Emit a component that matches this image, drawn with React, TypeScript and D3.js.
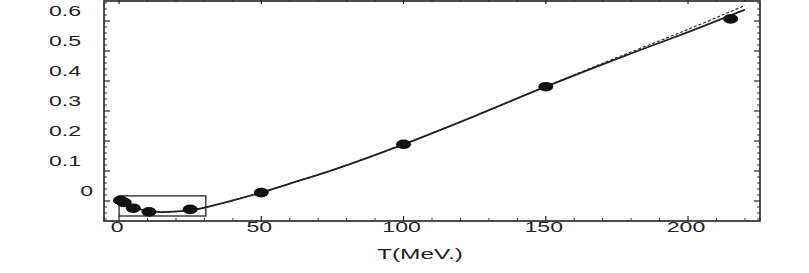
import React from "react";
import * as d3 from "d3";

// measured points (T in MeV, value)
const pointT = [0.5, 1.8, 5, 10.5, 25, 50, 100, 150, 215];
const pointV = [0.002, -0.005, -0.024, -0.036, -0.028, 0.028, 0.189, 0.381, 0.607];

// solid fit curve
const curveT = [0, 5, 10, 15, 20, 25, 30, 40, 50, 60, 75, 100, 125, 150, 175, 200, 220];
const solidV = [0.002, -0.02, -0.033, -0.037, -0.035, -0.031, -0.022, 0.002, 0.028, 0.058, 0.103, 0.189, 0.283, 0.381, 0.474, 0.563, 0.638];
// dashed curve (only differs at high T)
const dashedV = [0.002, -0.02, -0.033, -0.037, -0.035, -0.031, -0.022, 0.002, 0.028, 0.058, 0.103, 0.189, 0.283, 0.382, 0.478, 0.572, 0.652];

const xMajor = [0, 50, 100, 150, 200];
const yMajor = [0, 0.1, 0.2, 0.3, 0.4, 0.5, 0.6];
const yLabels = ["0", "0.1", "0.2", "0.3", "0.4", "0.5", "0.6"];

// zoom box shown around the low-T points
const boxT = [0, 30.5];
const boxV = [-0.05, 0.017];

const W = 809;
const H = 273;
const INK = "#222";

export default function App() {
  const x = d3.scaleLinear().domain([-5.3, 225.3]).range([104, 760]);
  const y = d3.scaleLinear().domain([-0.0667, 0.67]).range([221, 0]);
  const [x0, x1] = x.range();
  const [yb, yt] = y.range();

  const xMinor = d3.range(0, 221, 10).filter((t) => t % 50 !== 0);
  const yMinor = d3.range(-6, 67, 2).map((v) => v / 100).filter((v) => Math.round(v * 100) % 10 !== 0);

  const line = d3
    .line<number>()
    .x((_, i) => x(curveT[i]))
    .curve(d3.curveCatmullRom);
  const solid = line.y((v) => y(v))(solidV) || "";
  const dashed = line.y((v) => y(v))(dashedV) || "";

  const sx = 1.65;

  return (
    <svg width={W} height={H} style={{ position: "absolute", left: 0, top: 0, background: "#fff" }}>
      {/* frame */}
      <rect x={x0} y={yt + 1} width={x1 - x0} height={yb - yt - 1} fill="none" stroke={INK} strokeWidth={1.6} />

      {/* y ticks, left and right, pointing inward */}
      {yMajor.map((v) => (
        <g key={"ym" + v}>
          <line x1={x0} x2={x0 + 6} y1={y(v)} y2={y(v)} stroke={INK} strokeWidth={1.2} />
          <line x1={x1} x2={x1 - 6} y1={y(v)} y2={y(v)} stroke={INK} strokeWidth={1.2} />
        </g>
      ))}
      {yMinor.map((v) => (
        <g key={"yn" + v}>
          <line x1={x0} x2={x0 + 3} y1={y(v)} y2={y(v)} stroke={INK} strokeWidth={0.9} />
          <line x1={x1} x2={x1 - 3} y1={y(v)} y2={y(v)} stroke={INK} strokeWidth={0.9} />
        </g>
      ))}

      {/* x ticks, bottom and top */}
      {xMajor.map((t) => (
        <g key={"xm" + t}>
          <line x1={x(t)} x2={x(t)} y1={yb} y2={yb - 5} stroke={INK} strokeWidth={1.2} />
          <line x1={x(t)} x2={x(t)} y1={yt} y2={yt + 4} stroke={INK} strokeWidth={1.2} />
        </g>
      ))}
      {xMinor.map((t) => (
        <g key={"xn" + t}>
          <line x1={x(t)} x2={x(t)} y1={yb} y2={yb - 3} stroke={INK} strokeWidth={0.9} />
          <line x1={x(t)} x2={x(t)} y1={yt} y2={yt + 2} stroke={INK} strokeWidth={0.9} />
        </g>
      ))}

      {/* y tick labels */}
      {yMajor.map((v, i) => (
        <g key={"yl" + v} transform={`translate(${v === 0 ? 93 : 81},${y(v) - 5}) scale(${sx},1)`}>
          <text textAnchor="end" fontFamily="Liberation Sans, Arial, sans-serif" fontSize={14} fill={INK}>
            {yLabels[i]}
          </text>
        </g>
      ))}

      {/* x tick labels */}
      {xMajor.map((t) => (
        <g key={"xl" + t} transform={`translate(${x(t) - 2},${yb + 11}) scale(${sx},1)`}>
          <text textAnchor="middle" fontFamily="Liberation Sans, Arial, sans-serif" fontSize={14} fill={INK}>
            {t}
          </text>
        </g>
      ))}

      {/* axis title */}
      <text
        x={420}
        y={259}
        textAnchor="middle"
        fontFamily="Liberation Sans, Arial, sans-serif"
        fontSize={14}
        fill={INK}
        textLength={86}
        lengthAdjust="spacingAndGlyphs"
      >
        T(MeV.)
      </text>

      {/* zoom box */}
      <rect
        x={x(boxT[0])}
        y={y(boxV[1])}
        width={x(boxT[1]) - x(boxT[0])}
        height={y(boxV[0]) - y(boxV[1])}
        fill="none"
        stroke={INK}
        strokeWidth={1.3}
      />

      {/* curves */}
      <path d={dashed} fill="none" stroke={INK} strokeWidth={1.1} strokeDasharray="3,2" />
      <path d={solid} fill="none" stroke={INK} strokeWidth={1.8} />

      {/* points */}
      {pointT.map((t, i) => (
        <ellipse key={"p" + i} cx={x(t)} cy={y(pointV[i])} rx={7.5} ry={4.8} fill="#111" />
      ))}
    </svg>
  );
}
